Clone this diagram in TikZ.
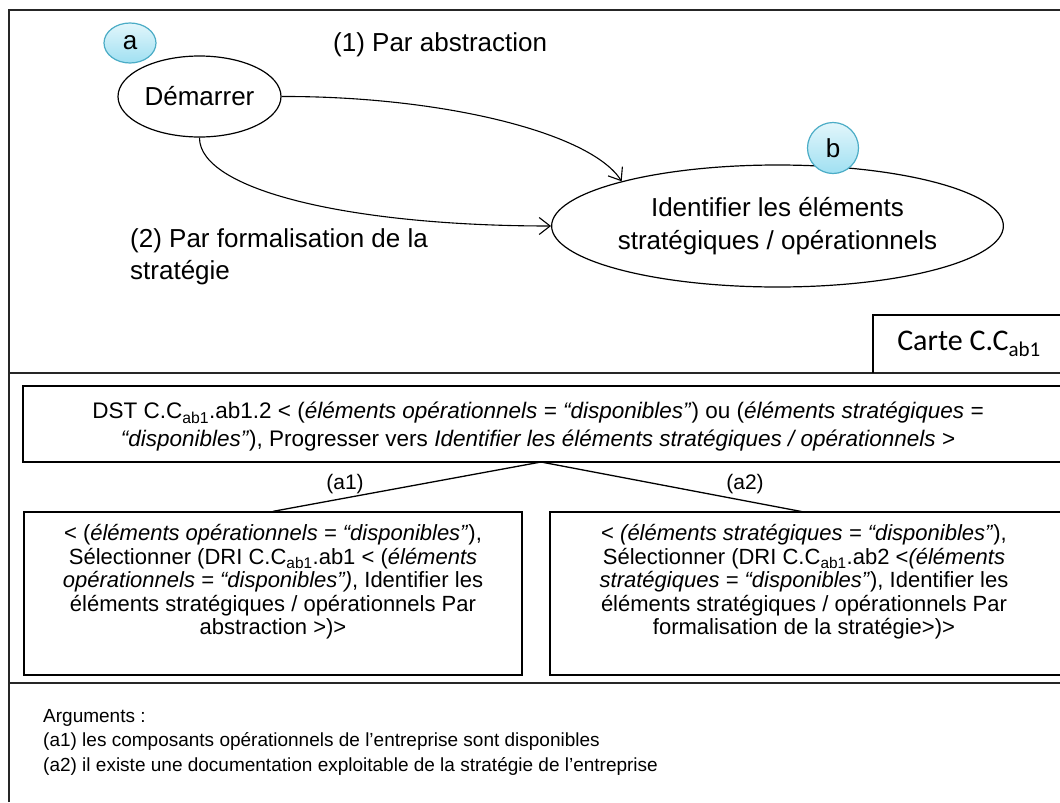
\documentclass[tikz,border=0pt]{standalone}
\usepackage{fontspec}
\setmainfont{Liberation Sans}
\newfontfamily\calib{Carlito}
\usetikzlibrary{shapes.geometric,arrows.meta}
\definecolor{tagborder}{RGB}{75,172,198}
\definecolor{tagtop}{RGB}{226,246,251}
\definecolor{tagbot}{RGB}{160,224,242}
\begin{document}
\begin{tikzpicture}[x=1pt,y=-1pt,
  frame/.style={line width=1.8pt, draw=black!85},
  box/.style={draw, line width=1.3pt, rectangle, inner sep=0pt},
  state/.style={draw, ellipse, line width=1.2pt, inner sep=0pt, align=center},
  tag/.style={ellipse, draw=tagborder, line width=1.2pt, top color=tagtop, bottom color=tagbot, inner sep=0pt, font=\fontsize{26}{30}\selectfont},
  conn/.style={line width=1.1pt, -{Straight Barb[length=11pt,width=17pt,line width=1.1pt]}},
  bigtxt/.style={font=\fontsize{26}{32}\selectfont, inner sep=0pt},
  dsttxt/.style={font=\fontsize{22.5}{28}\selectfont, inner sep=0pt, align=center},
  childtxt/.style={font=\fontsize{22}{23.5}\selectfont, inner sep=0pt, align=center},
  argtxt/.style={font=\fontsize{19}{24.5}\selectfont, inner sep=0pt, align=left},
  lbl/.style={font=\fontsize{21}{24}\selectfont, inner sep=0pt}
]
\useasboundingbox (0,0) rectangle (1060,803);
% frame
\draw[frame] (9,802) -- (9,10) -- (1060,10);
\draw[frame] (9,373) -- (1060,373);
\draw[frame] (9,683) -- (1060,683);

% top map
\node[state, minimum width=163pt, minimum height=81pt, font=\fontsize{26}{32}\selectfont] (dem) at (199.5,96.5) {Démarrer};
\node[state, minimum width=431pt, minimum height=122pt, font=\fontsize{26}{33}\selectfont] (ident) at (777.5,226) {Identifier les éléments\\stratégiques / opérationnels};
\node[tag, minimum width=52pt, minimum height=40pt] (ta) at (130,43) {a};
\node[tag, minimum width=51pt, minimum height=51pt] (tb) at (833,148) {b};
\node[bigtxt, anchor=west] (l1) at (333,45) {(1) Par abstraction};
\node[bigtxt, anchor=west, align=left] (l2) at (130,257) {(2) Par formalisation de la\\stratégie};
\draw[conn] (dem.east) .. controls (440,96) and (590,132) .. (ident.164);
\draw[conn] (dem.south) .. controls (199,190) and (350,226) .. (ident.west);

% carte label
\draw[line width=1.2pt] (1060,315) -- (873,315) -- (873,373);
\node[font=\calib\fontsize{30}{34}\selectfont, inner sep=0pt] (carte) at (969,344) {Carte C.C\textsubscript{ab1}};

% decision tree
\draw[line width=1.3pt] (1060,386) -- (23,386) -- (23,462) -- (1060,462);
\coordinate (dst) at (541,424);
\node[dsttxt] (dsttext) at (538,427) {DST C.C\textsubscript{ab1}.ab1.2 < (\textit{éléments opérationnels = “disponibles”}) ou (\textit{éléments stratégiques =}\\\textit{“disponibles”}), Progresser vers \textit{Identifier les éléments stratégiques / opérationnels} >};
\node[box, minimum width=498pt, minimum height=163pt] (c1) at (273,593.5) {};
\draw[line width=1.3pt] (1060,512) -- (550,512) -- (550,675) -- (1060,675);
\coordinate (c2) at (804,512);
\node[childtxt] (c1text) at (273,582) {< (\textit{éléments opérationnels = “disponibles”}),\\Sélectionner (DRI C.C\textsubscript{ab1}.ab1 < (\textit{éléments}\\\textit{opérationnels = “disponibles”)}, Identifier les\\éléments stratégiques / opérationnels Par\\abstraction >)>};
\node[childtxt] (c2text) at (804,582) {< \textit{(éléments stratégiques = “disponibles”}),\\Sélectionner (DRI C.C\textsubscript{ab1}.ab2 <\textit{(éléments}\\\textit{stratégiques = “disponibles”}), Identifier les\\éléments stratégiques / opérationnels Par\\formalisation de la stratégie>)>};
\coordinate (apex) at (541,462);
\draw[line width=1.3pt] (apex) -- (c1.north);
\draw[line width=1.3pt] (apex) -- (c2);
\node[lbl] (la1) at (345,484) {(a1)};
\node[lbl] (la2) at (745,484) {(a2)};

% arguments
\node[argtxt, anchor=west] (args) at (43,742) {Arguments :\\(a1) les composants opérationnels de l’entreprise sont disponibles\\(a2) il existe une documentation exploitable de la stratégie de l’entreprise};
\end{tikzpicture}
\end{document}
